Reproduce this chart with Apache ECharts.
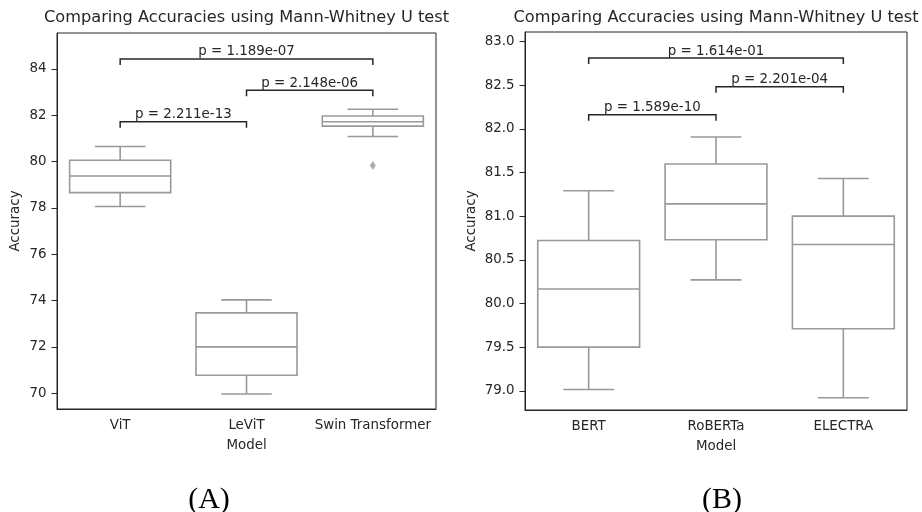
<!DOCTYPE html>
<html>
<head>
<meta charset="utf-8">
<script src="https://cdn.jsdelivr.net/npm/echarts@6/dist/echarts.min.js"></script>
<style>html,body{margin:0;padding:0;background:#fff}#c{width:922px;height:512px}</style>
</head>
<body>
<div id="c"></div>
<script>
// ---------- data ----------
const titleText = 'Comparing Accuracies using Mann-Whitney U test';
const categoriesA = ['ViT', 'LeViT', 'Swin Transformer'];
// [min, Q1, median, Q3, max]
const statsViT   = [78.06, 78.66, 79.38, 80.06, 80.65];
const statsLeViT = [69.97, 70.78, 72.00, 73.47, 74.03];
const statsSwin  = [81.08, 81.53, 81.72, 81.97, 82.26];
const outliersA  = [[2, 79.83]];
const bracketsA  = [[0, 1, 81.72, 'p = 2.211e-13'], [1, 2, 83.08, 'p = 2.148e-06'], [0, 2, 84.43, 'p = 1.189e-07']];
const yTicksA    = [70, 72, 74, 76, 78, 80, 82, 84];

const categoriesB = ['BERT', 'RoBERTa', 'ELECTRA'];
const statsBERT    = [79.015, 79.50, 80.165, 80.72, 81.29];
const statsRoBERTa = [80.27, 80.73, 81.14, 81.596, 81.905];
const statsELECTRA = [78.92, 79.71, 80.675, 81.00, 81.43];
const bracketsB  = [[0, 1, 82.16, 'p = 1.589e-10'], [1, 2, 82.48, 'p = 2.201e-04'], [0, 2, 82.81, 'p = 1.614e-01']];
const yTicksB    = [79.0, 79.5, 80.0, 80.5, 81.0, 81.5, 82.0, 82.5, 83.0];

// ---------- styles ----------
const FONT = 'DejaVu Sans';
const BOX = '#999999';
const INK = '#262626';
const FS = 13.4;

function boxData(list) { return list.map((s, i) => [i].concat(s)); }

function renderBox(params, api) {
  const ci = api.value(0);
  const band = api.size([1, 0])[0];
  const bw = band * 0.8, cw = bw / 2;
  const pMin = api.coord([ci, api.value(1)]);
  const pQ1 = api.coord([ci, api.value(2)]);
  const pMed = api.coord([ci, api.value(3)]);
  const pQ3 = api.coord([ci, api.value(4)]);
  const pMax = api.coord([ci, api.value(5)]);
  const x = pMed[0];
  const ls = { stroke: BOX, lineWidth: 1.6, fill: null };
  return {
    type: 'group',
    children: [
      { type: 'line', shape: { x1: x, y1: pQ1[1], x2: x, y2: pMin[1] }, style: ls },
      { type: 'line', shape: { x1: x, y1: pQ3[1], x2: x, y2: pMax[1] }, style: ls },
      { type: 'line', shape: { x1: x - cw / 2, y1: pMin[1], x2: x + cw / 2, y2: pMin[1] }, style: ls },
      { type: 'line', shape: { x1: x - cw / 2, y1: pMax[1], x2: x + cw / 2, y2: pMax[1] }, style: ls },
      { type: 'rect', shape: { x: x - bw / 2, y: pQ3[1], width: bw, height: pQ1[1] - pQ3[1] }, style: { stroke: BOX, lineWidth: 1.6, fill: '#fff' } },
      { type: 'line', shape: { x1: x - bw / 2, y1: pMed[1], x2: x + bw / 2, y2: pMed[1] }, style: ls }
    ]
  };
}

function renderBracket(params, api) {
  const p1 = api.coord([api.value(0), api.value(2)]);
  const p2 = api.coord([api.value(1), api.value(2)]);
  const drop = 6;
  const label = api.value(3);
  return {
    type: 'group',
    children: [
      { type: 'polyline', shape: { points: [[p1[0], p1[1] + drop], [p1[0], p1[1]], [p2[0], p2[1]], [p2[0], p2[1] + drop]] },
        style: { stroke: INK, lineWidth: 1.5, fill: null } },
      { type: 'text', x: (p1[0] + p2[0]) / 2, y: p1[1] - 0.5,
        style: { text: label, fill: INK, font: FS + 'px "' + FONT + '"', align: 'center', verticalAlign: 'bottom', textAlign: 'center', textVerticalAlign: 'bottom' } }
    ]
  };
}

function xAxisCfg(gi, cats) {
  return {
    gridIndex: gi, type: 'category', data: cats, boundaryGap: true,
    name: 'Model', nameLocation: 'middle', nameGap: 30,
    nameTextStyle: { fontFamily: FONT, fontSize: FS, color: INK },
    axisLine: { lineStyle: { color: INK, width: 1 } },
    axisTick: { alignWithLabel: true, length: 5.5, lineStyle: { color: INK } },
    axisLabel: { fontFamily: FONT, fontSize: FS, color: INK, margin: 10, interval: 0 },
    splitLine: { show: false }
  };
}

function yAxisCfg(gi, min, max, ticks, dec, gap) {
  return {
    gridIndex: gi, type: 'value', min: min, max: max,
    name: 'Accuracy', nameLocation: 'middle', nameGap: gap, nameRotate: 90,
    nameTextStyle: { fontFamily: FONT, fontSize: FS, color: INK },
    axisLine: { show: true, lineStyle: { color: INK, width: 1 } },
    axisTick: { show: true, length: 5.5, lineStyle: { color: INK }, customValues: ticks },
    axisLabel: { fontFamily: FONT, fontSize: FS, color: INK, margin: 10.5, customValues: ticks,
      formatter: v => Number(v).toFixed(dec) },
    splitLine: { show: false }
  };
}

const chart = echarts.init(document.getElementById('c'), null, { renderer: 'canvas' });
chart.setOption({
  animation: false,
  backgroundColor: '#fff',
  grid: [
    { left: 57, top: 33, width: 379, height: 376, show: true, borderColor: INK, borderWidth: 1, backgroundColor: 'transparent' },
    { left: 525, top: 32, width: 382, height: 378, show: true, borderColor: INK, borderWidth: 1, backgroundColor: 'transparent' }
  ],
  xAxis: [xAxisCfg(0, categoriesA), xAxisCfg(1, categoriesB)],
  yAxis: [yAxisCfg(0, 69.32, 85.55, yTicksA, 0, 35), yAxisCfg(1, 78.78, 83.108, yTicksB, 1, 47)],
  graphic: [
    { type: 'text', x: 246.5, y: 18, style: { text: titleText, fill: INK, font: '16.2px "' + FONT + '"', align: 'center', verticalAlign: 'middle', textAlign: 'center', textVerticalAlign: 'middle' } },
    { type: 'text', x: 716, y: 18, style: { text: titleText, fill: INK, font: '16.2px "' + FONT + '"', align: 'center', verticalAlign: 'middle', textAlign: 'center', textVerticalAlign: 'middle' } },
    { type: 'text', x: 209, y: 500, style: { text: '(A)', fill: '#000', font: '30px "Liberation Serif"', align: 'center', verticalAlign: 'middle', textAlign: 'center', textVerticalAlign: 'middle' } },
    { type: 'text', x: 722, y: 500, style: { text: '(B)', fill: '#000', font: '30px "Liberation Serif"', align: 'center', verticalAlign: 'middle', textAlign: 'center', textVerticalAlign: 'middle' } }
  ],
  series: [
    { type: 'custom', xAxisIndex: 0, yAxisIndex: 0, renderItem: renderBox,
      encode: { x: 0, y: [1, 2, 3, 4, 5] }, data: boxData([statsViT, statsLeViT, statsSwin]) },
    { type: 'scatter', xAxisIndex: 0, yAxisIndex: 0, symbol: 'diamond', symbolSize: [6, 9],
      itemStyle: { color: BOX }, data: outliersA },
    { type: 'custom', xAxisIndex: 0, yAxisIndex: 0, renderItem: renderBracket,
      encode: { x: [0, 1], y: 2 }, data: bracketsA },
    { type: 'custom', xAxisIndex: 1, yAxisIndex: 1, renderItem: renderBox,
      encode: { x: 0, y: [1, 2, 3, 4, 5] }, data: boxData([statsBERT, statsRoBERTa, statsELECTRA]) },
    { type: 'custom', xAxisIndex: 1, yAxisIndex: 1, renderItem: renderBracket,
      encode: { x: [0, 1], y: 2 }, data: bracketsB }
  ]
});
</script>
</body>
</html>
